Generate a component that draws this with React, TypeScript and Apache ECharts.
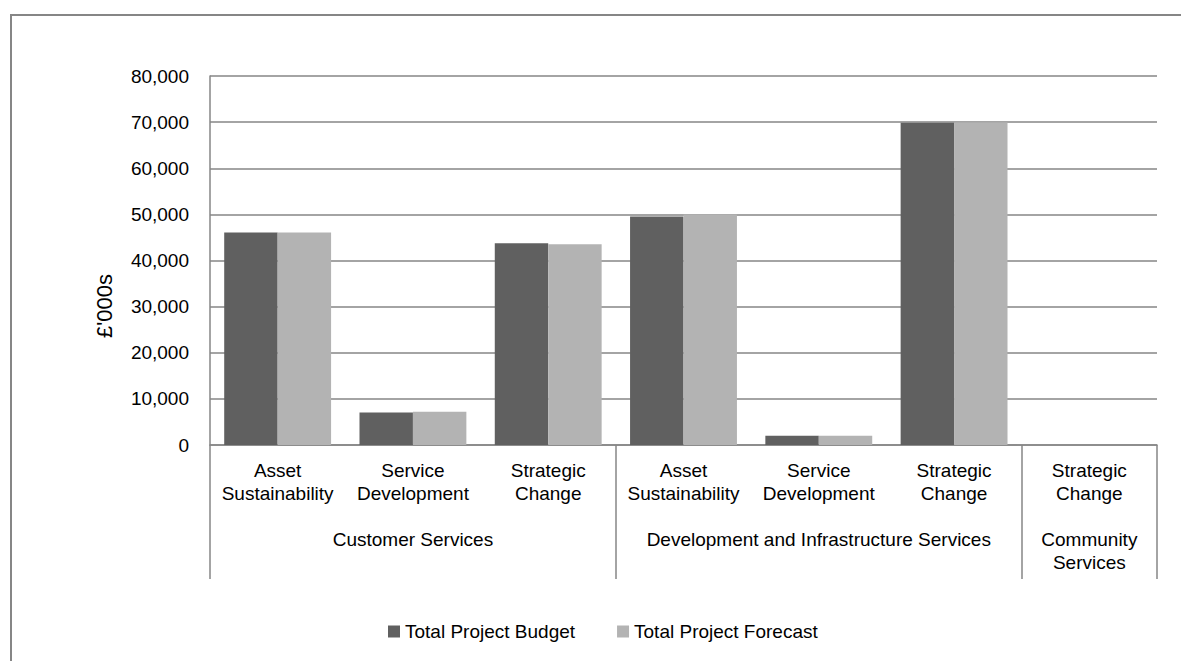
import React, { useEffect, useRef } from "react";
import * as echarts from "echarts";

const subCategories = [
  "Asset\nSustainability",
  "Service\nDevelopment",
  "Strategic\nChange",
  "Asset\nSustainability",
  "Service\nDevelopment",
  "Strategic\nChange",
  "Strategic\nChange",
];
const groupNames = ["Customer Services", "Development and Infrastructure Services", "Community\nServices"];
const groupSizes = [3, 3, 1];

const budget = [46050, 7070, 43730, 49520, 2020, 69850, 0];
const forecast = [46050, 7220, 43520, 49960, 2020, 69920, 0];

const yTicks = { min: 0, max: 80000, interval: 10000 };
const yTitle = "£'000s";

const FONT = "'Liberation Sans', Arial, sans-serif";
const GRID_COLOR = "#868686";

export default function App() {
  const ref = useRef<HTMLDivElement>(null);

  useEffect(() => {
    if (!ref.current) return;
    const chart = echarts.init(ref.current, null, { renderer: "svg" });

    const groupStarts = new Set<number>();
    const groupLabelAt: Record<number, string> = {};
    let acc = 0;
    groupSizes.forEach((n, gi) => {
      groupStarts.add(acc);
      groupLabelAt[acc + Math.floor((n - 1) / 2)] = groupNames[gi];
      acc += n;
    });

    chart.setOption({
      animation: false,
      backgroundColor: "#ffffff",
      textStyle: { fontFamily: FONT, color: "#000" },
      graphic: [
        {
          type: "rect",
          shape: { x: 11, y: 15, width: 1300, height: 800 },
          style: { fill: "none", stroke: GRID_COLOR, lineWidth: 2 },
          silent: true,
        },
        {
          type: "text",
          x: 104,
          y: 306,
          rotation: Math.PI / 2,
          silent: true,
          style: {
            text: yTitle,
            fontSize: 22,
            fontFamily: FONT,
            fill: "#000",
            align: "center",
            verticalAlign: "middle",
          },
        },
      ],
      grid: { left: 210, right: 24, top: 76, bottom: 216, containLabel: false },
      legend: {
        left: 388,
        top: 622,
        padding: 0,
        itemWidth: 12,
        itemHeight: 12,
        itemGap: 42,
        icon: "rect",
        textStyle: { fontSize: 19, color: "#000", fontFamily: FONT },
        data: ["Total Project Budget", "Total Project Forecast"],
      },
      xAxis: [
        {
          type: "category",
          position: "bottom",
          data: subCategories,
          axisLine: { show: true, lineStyle: { color: GRID_COLOR, width: 1.5 } },
          axisTick: {
            show: true,
            length: 134,
            interval: (i: number) => groupStarts.has(i),
            lineStyle: { color: GRID_COLOR, width: 1.5 },
          },
          axisLabel: {
            interval: 0,
            margin: 14,
            fontSize: 19,
            lineHeight: 23,
            color: "#000",
            fontFamily: FONT,
          },
          splitLine: { show: false },
        },
        {
          type: "category",
          position: "bottom",
          data: subCategories,
          axisLine: { show: false },
          axisTick: { show: false },
          axisLabel: {
            interval: 0,
            margin: 83,
            fontSize: 19,
            lineHeight: 23,
            color: "#000",
            fontFamily: FONT,
            formatter: (_v: string, i: number) => groupLabelAt[i] || "",
          },
          splitLine: { show: false },
        },
      ],
      yAxis: {
        type: "value",
        min: yTicks.min,
        max: yTicks.max,
        interval: yTicks.interval,
        axisLine: { show: true, lineStyle: { color: GRID_COLOR, width: 1.5 } },
        axisTick: { show: false },
        axisLabel: {
          margin: 21,
          fontSize: 19,
          color: "#000",
          fontFamily: FONT,
          formatter: (v: number) => v.toLocaleString("en-GB"),
        },
        splitLine: { show: true, lineStyle: { color: GRID_COLOR, width: 1.5 } },
      },
      series: [
        {
          name: "Total Project Budget",
          type: "bar",
          xAxisIndex: 0,
          data: budget,
          barGap: "0%",
          barCategoryGap: "21%",
          itemStyle: { color: "#606060" },
        },
        {
          name: "Total Project Forecast",
          type: "bar",
          xAxisIndex: 0,
          data: forecast,
          barGap: "0%",
          barCategoryGap: "21%",
          itemStyle: { color: "#b3b3b3" },
        },
      ],
    });

    return () => chart.dispose();
  }, []);

  return (
    <div
      ref={ref}
      style={{ position: "absolute", left: 0, top: 0, width: 1181, height: 661 }}
    />
  );
}
